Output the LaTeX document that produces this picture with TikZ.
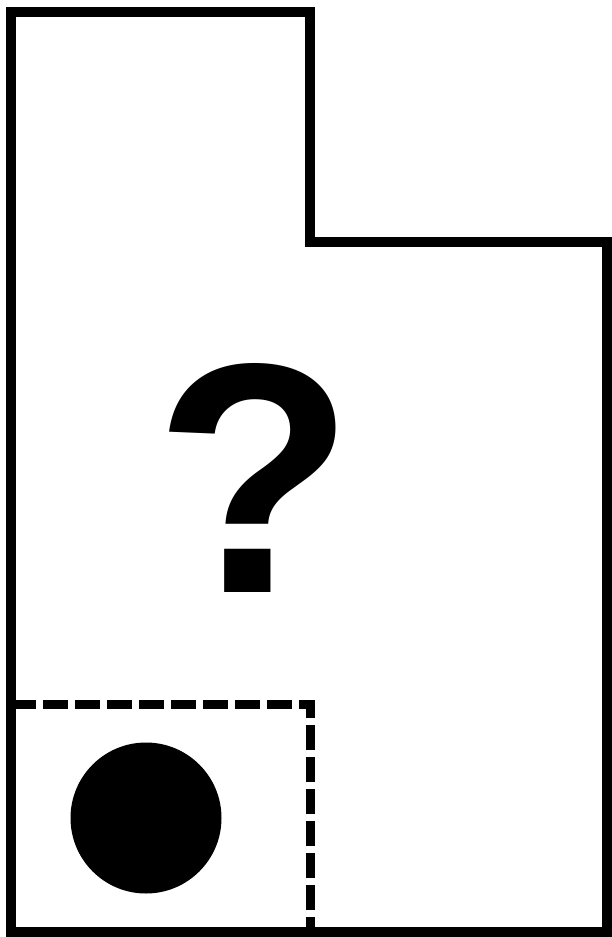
\documentclass[tikz,border=0pt]{standalone}
\usepackage{fontspec}
\setmainfont{Liberation Sans}

\begin{document}
\begin{tikzpicture}[
  x=1pt, y=-1pt,
  wall/.style = {draw, line width=10pt, line join=miter},
  zone/.style = {draw, line width=9pt, dash pattern=on 25pt off 7pt},
  dot/.style  = {circle, fill, inner sep=0pt, minimum size=151pt},
  qstyle/.style = {inner sep=0pt, font=\fontsize{328}{328}\selectfont\bfseries}
]
\useasboundingbox (0,0) rectangle (612,937);

% outline of the room
\draw[wall] (11,12) -- (310,12) -- (310,242) -- (607,242)
  -- (607,932) -- (11,932) -- cycle;

% dashed corner area
\coordinate (zoneL) at (11,704);
\coordinate (zoneC) at (310,704);
\coordinate (zoneB) at (310,932);
\draw[zone] (zoneL) -- (zoneC) -- (zoneB);

\node[dot] (ball) at (146,818) {};
\node[qstyle] (qmark) at (255,478) {?};

\end{tikzpicture}
\end{document}
